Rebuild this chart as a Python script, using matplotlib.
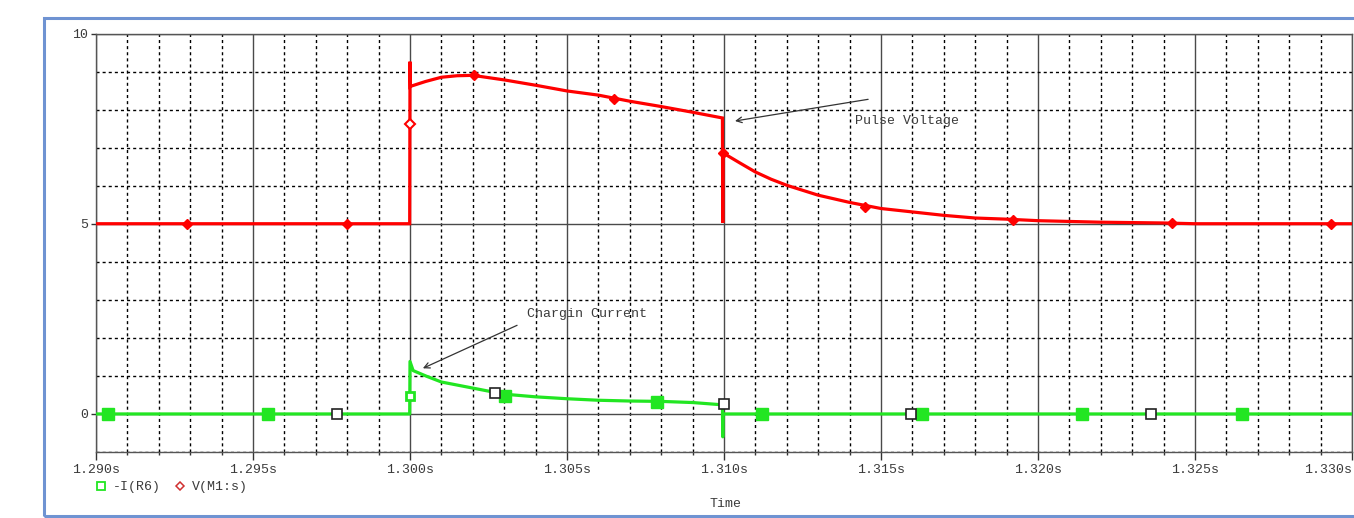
import matplotlib
matplotlib.use("Agg")
import matplotlib.pyplot as plt
from matplotlib.ticker import MultipleLocator, FixedLocator
from matplotlib.lines import Line2D
from matplotlib.patches import Rectangle

# ---- data ----
t_v = [1.2900, 1.29999, 1.30000, 1.30001, 1.30005, 1.3005, 1.3010, 1.3015, 1.3020,
       1.3030, 1.3040, 1.3050, 1.3060, 1.3070, 1.3080, 1.3090, 1.30995, 1.30996,
       1.30997, 1.3105, 1.3110, 1.3115, 1.3120, 1.3130, 1.3140, 1.3150, 1.3160, 1.3170,
       1.3180, 1.3190, 1.3200, 1.3210, 1.3220, 1.3230, 1.3240, 1.3250, 1.3300]
v_ms = [5.0, 5.0, 9.26, 8.6, 8.62, 8.74, 8.85, 8.89, 8.9,
        8.78, 8.64, 8.49, 8.38, 8.22, 8.08, 7.93, 7.78, 5.02,
        6.86, 6.60, 6.36, 6.17, 6.01, 5.75, 5.56, 5.40, 5.31, 5.22,
        5.15, 5.12, 5.08, 5.06, 5.04, 5.03, 5.02, 5.0, 5.0]

t_i = [1.2900, 1.29999, 1.30000, 1.30010, 1.3005, 1.3010, 1.3020, 1.3030, 1.3040,
       1.3050, 1.3060, 1.3070, 1.3080, 1.3090, 1.30995, 1.30996, 1.30997, 1.3300]
i_r6 = [0.0, 0.0, 1.38, 1.14, 1.0, 0.84, 0.68, 0.52, 0.45,
        0.40, 0.36, 0.34, 0.33, 0.30, 0.24, -0.6, 0.0, 0.0]

v_mark_t = [1.2929, 1.2980, 1.30204, 1.3065, 1.30997, 1.31449, 1.3192, 1.32427, 1.32933]
v_mark_v = [5.0, 5.0, 8.9, 8.27, 6.86, 5.45, 5.1, 5.02, 5.0]
v_open_t = [1.3000]
v_open_v = [7.62]

i_mark_t = [1.29038, 1.29548, 1.30303, 1.30787, 1.31121, 1.31631, 1.3214, 1.3265]
i_mark_v = [0.0, 0.0, 0.48, 0.32, 0.0, 0.0, 0.0, 0.0]
i_open_t = [1.3000]
i_open_v = [0.46]
cursor_t = [1.29768, 1.30271, 1.3100, 1.31596, 1.3236]
cursor_v = [0.0, 0.54, 0.25, 0.0, 0.0]

x_ticks = [1.290, 1.295, 1.300, 1.305, 1.310, 1.315, 1.320, 1.325, 1.330]
x_labels = ["1.290s", "1.295s", "1.300s", "1.305s", "1.310s", "1.315s", "1.320s", "1.325s", "1.330s"]
y_ticks = [0, 5, 10]
y_labels = ["0", "5", "10"]
legend_labels = ["-I(R6)", "V(M1:s)"]
x_title = "Time"
note_v = "Pulse Voltage"
note_i = "Chargin Current"

# ---- figure ----
W, H = 1354, 518
fig = plt.figure(figsize=(W / 100, H / 100), dpi=100)
font = "Liberation Mono"
tcol = "#3a3a3a"
fs = 9.5

# blue outer frame
fig.patches.append(Rectangle((44 / W, 1 - 516 / H), 1.2, (516 - 18) / H,
                             transform=fig.transFigure, fill=False,
                             edgecolor="#6f93d2", lw=2.2))

L, R, T, B = 96, 1352, 33.5, 452
ax = fig.add_axes([L / W, 1 - B / H, (R - L) / W, (B - T) / H])
ax.set_xlim(1.290, 1.330)
ax.set_ylim(-1, 10)

ax.xaxis.set_major_locator(FixedLocator(x_ticks))
ax.xaxis.set_minor_locator(MultipleLocator(0.001))
ax.yaxis.set_major_locator(FixedLocator(y_ticks))
ax.yaxis.set_minor_locator(MultipleLocator(1))
ax.set_xticklabels(x_labels, fontfamily=font, fontsize=fs, color=tcol)
ax.set_yticklabels(y_labels, fontfamily=font, fontsize=fs, color=tcol)
ax.get_xticklabels()[-1].set_horizontalalignment("right")
ax.tick_params(axis="x", which="major", length=6, width=1, color="#333", pad=2.5)
ax.tick_params(axis="x", which="minor", length=2.5, width=1, color="#333")
ax.tick_params(axis="y", which="major", length=3.5, width=1, color="#333", pad=2)
ax.tick_params(axis="y", which="minor", length=0)

ax.grid(which="major", color="#4a4a4a", lw=1.0, ls="-")
ax.grid(which="minor", color="black", lw=1.0, ls=(0, (2.2, 2.2)))
ax.set_axisbelow(True)
for s in ax.spines.values():
    s.set_color("#555")
    s.set_linewidth(1.0)

red = "#ff0000"
green = "#22e622"
ax.plot(t_v, v_ms, color=red, lw=2.3, solid_joinstyle="miter", zorder=3)
ax.plot(t_i, i_r6, color=green, lw=2.3, zorder=3)

ax.plot(v_mark_t, v_mark_v, ls="none", marker="D", ms=5, color=red, zorder=4)
ax.plot(v_open_t, v_open_v, ls="none", marker="D", ms=5, mfc="white", mec=red, mew=1.5, zorder=4)
ax.plot(i_mark_t, i_mark_v, ls="none", marker="s", ms=8, color=green, zorder=4)
ax.plot(i_open_t, i_open_v, ls="none", marker="s", ms=6, mfc="white", mec=green, mew=2, zorder=4)
ax.plot(cursor_t, cursor_v, ls="none", marker="s", ms=7.5, mfc="white", mec="#222", mew=1.2, zorder=5)

arrow = dict(arrowstyle="->", color="#333", lw=0.9, shrinkA=0, shrinkB=0)
ax.annotate("", xy=(1.31035, 7.70), xytext=(1.31459, 8.27), arrowprops=arrow)
ax.text(1.31417, 7.70, note_v, fontfamily=font, fontsize=fs, color=tcol, va="center", ha="left")
ax.annotate("", xy=(1.30041, 1.20), xytext=(1.30341, 2.33), arrowprops=arrow)
ax.text(1.30373, 2.62, note_i, fontfamily=font, fontsize=fs, color=tcol, va="center", ha="left")

handles = [Line2D([], [], ls="none", marker="s", ms=5.5, mfc="white", mec=green, mew=1.3),
           Line2D([], [], ls="none", marker="D", ms=4, mfc="white", mec="#d03030", mew=1.1)]
leg = ax.legend(handles, legend_labels, loc="center left", bbox_to_anchor=(0.0, -0.084),
                frameon=False, ncol=2, handlelength=0.8, handletextpad=0.5,
                columnspacing=1.0, borderaxespad=0, borderpad=0,
                prop={"family": font, "size": fs})
for txt in leg.get_texts():
    txt.set_color(tcol)

fig.text(725 / W, 1 - 504 / H, x_title, fontfamily=font, fontsize=fs, color=tcol,
         ha="center", va="center")

fig.savefig("out.png", dpi=100)
